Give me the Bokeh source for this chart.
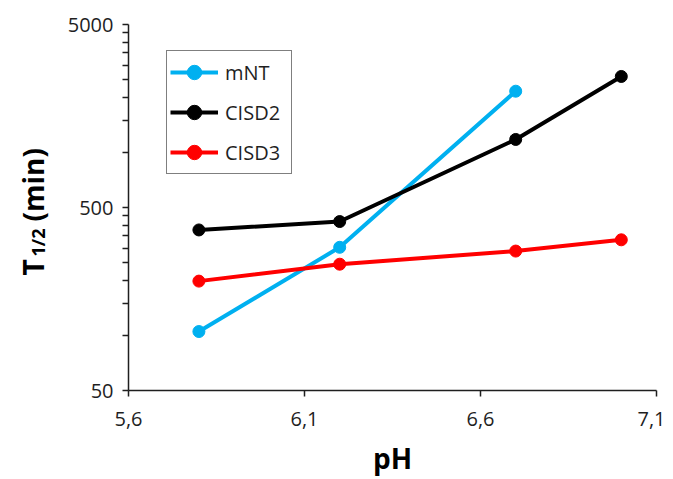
import math
from bokeh.plotting import figure
from bokeh.layouts import row
from bokeh.models import Range1d, FixedTicker, BasicTickFormatter, Legend
from bokeh.core.properties import value
from bokeh.embed import file_html
from bokeh.resources import INLINE

# ---- data ----
ph_mnt = [5.8, 6.2, 6.7]
t_mnt = [105, 303, 2160]
ph_cisd = [5.8, 6.2, 6.7, 7.0]
t_cisd2 = [377, 419, 1177, 2600]
t_cisd3 = [198, 245, 289, 333]

x_ticks = [5.6, 6.1, 6.6, 7.1]
x_tick_labels = ["5,6", "6,1", "6,6", "7,1"]
y_ticks = [50, 500, 5000]

FONT = "Open Sans"
TXT = "#1f1f1f"

H = 479
LW = 60                 # width of the strip holding the y-axis title
W = 665 - LW
BL, BR, BT, BB = 128 - LW, 9, 24, 89

p = figure(width=W, height=H, output_backend="svg", toolbar_location=None,
           y_axis_type="log",
           x_range=Range1d(5.6, 7.1), y_range=Range1d(50, 5000),
           min_border_left=BL, min_border_right=BR, min_border_top=BT,
           min_border_bottom=BB)
p.outline_line_color = None
p.xgrid.visible = False
p.ygrid.visible = False
p.background_fill_color = "white"
p.border_fill_color = "white"

# x axis
xa = p.xaxis[0]
xa.ticker = FixedTicker(ticks=x_ticks)
xa.major_label_overrides = {t: l for t, l in zip(x_ticks, x_tick_labels)}
xa.minor_tick_line_color = None
xa.major_tick_in = 0
xa.major_tick_out = 6
xa.major_label_standoff = 15
xa.axis_label = "pH"
xa.axis_label_text_font = FONT
xa.axis_label_text_font_style = "bold"
xa.axis_label_text_font_size = "28px"
xa.axis_label_text_color = "black"
xa.axis_label_standoff = 10

# y axis
ya = p.yaxis[0]
minor = [m * k for m in y_ticks[:-1] for k in range(2, 10)]
ya.ticker = FixedTicker(ticks=y_ticks, minor_ticks=minor)
ya.formatter = BasicTickFormatter()
ya.major_tick_in = 0
ya.major_tick_out = 6
ya.minor_tick_in = 0
ya.minor_tick_out = 6
ya.major_label_standoff = 9

for ax in (xa, ya):
    ax.axis_line_color = TXT
    ax.axis_line_width = 1.5
    ax.major_tick_line_color = TXT
    ax.major_tick_line_width = 1.5
    ax.minor_tick_line_width = 1.5
    ax.major_label_text_font = FONT
    ax.major_label_text_font_size = "20px"
    ax.major_label_text_color = TXT
ya.minor_tick_line_color = TXT

# series
series = [
    ("mNT", ph_mnt, t_mnt, "#00B0F0"),
    ("CISD2", ph_cisd, t_cisd2, "black"),
    ("CISD3", ph_cisd, t_cisd3, "#FF0000"),
]
items = []
for name, xs, ys, c in series:
    r1 = p.line(xs, ys, line_color=c, line_width=4)
    r2 = p.scatter(xs, ys, size=12, fill_color=c, line_color=c)
    items.append((name, [r1, r2]))

leg = Legend(items=items, location=(38, 216))
leg.border_line_color = "black"
leg.border_line_width = 1.5
leg.background_fill_color = "white"
leg.background_fill_alpha = 1
leg.label_text_font = FONT
leg.label_text_font_size = "20px"
leg.label_text_color = TXT
leg.glyph_width = 48
leg.glyph_height = 36
leg.label_height = 36
leg.label_width = 63
leg.spacing = 4
leg.padding = 3
leg.margin = 0
leg.label_standoff = 7
p.add_layout(leg, "center")

# strip with the rotated y-axis title  T_{1/2} (min)
# its frame is given the same vertical extent as the main plot's frame,
# and its ranges are in page pixels (y measured from the page bottom)
t = figure(width=LW, height=H, output_backend="svg", toolbar_location=None,
           x_range=Range1d(0, LW), y_range=Range1d(H - 390, H - 24),
           x_axis_location=None, y_axis_location=None,
           min_border_left=0, min_border_right=0,
           min_border_top=BT, min_border_bottom=BB)
t.outline_line_color = None
t.xgrid.visible = False
t.ygrid.visible = False
common = dict(angle=math.pi / 2, text_font=value(FONT), text_font_style="bold",
              text_color="black", text_align="left", text_baseline="alphabetic")
t.text(x=[32.7], y=[H - 275], text=["T"], text_font_size="28px", **common)
t.text(x=[37.7], y=[H - 256], text=["1/2"], text_font_size="18px", **common)
t.text(x=[32.7], y=[H - 221], text=["(min)"], text_font_size="28px", **common)

layout = row(t, p)
open("out.html", "w").write(file_html(layout, INLINE))
